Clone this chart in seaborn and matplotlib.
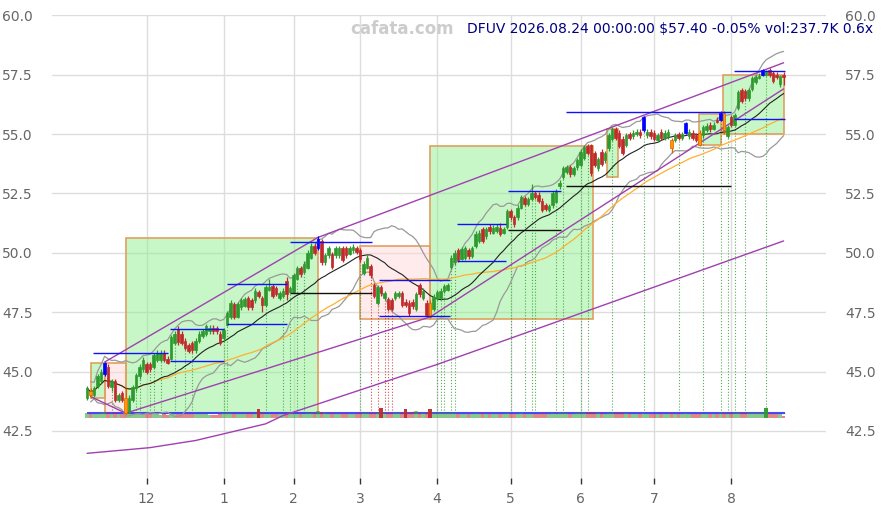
import numpy as np
import pandas as pd
import matplotlib
matplotlib.use("Agg")
import matplotlib.pyplot as plt
from matplotlib.patches import Rectangle
import seaborn as sns

HOLIDAYS = ["2025-11-27", "2025-12-25", "2026-01-01", "2026-01-19", "2026-02-16",
            "2026-04-03", "2026-05-25", "2026-06-19", "2026-07-03"]

# daily candles, one row of (open, high, low, close) per trading day
candles = [
    (43.9, 44.4, 43.8, 44.3), (44.2, 44.3, 43.9, 44.0), (44.0, 44.4, 43.95, 44.3), (44.4, 44.9, 44.3, 44.8),
    (44.6, 45.1, 44.5, 45.0), (44.9, 45.4, 44.8, 45.35), (45.2, 45.3, 44.3, 44.4), (44.35, 44.7, 44.2, 44.6),
    (44.6, 44.7, 43.7, 43.8), (43.8, 44.1, 43.7, 44.0), (44.1, 44.2, 43.7, 43.8), (43.9, 44.3, 43.2, 43.25),
    (43.3, 44.0, 43.25, 43.9), (43.8, 44.45, 43.7, 44.35), (44.3, 44.95, 44.2, 44.85), (44.8, 45.3, 44.7, 45.2),
    (45.1, 45.6, 45.0, 45.5), (45.3, 45.4, 44.9, 45.0), (45.3, 45.4, 45.0, 45.1), (45.2, 45.8, 45.1, 45.7),
    (45.5, 45.9, 45.4, 45.8), (45.5, 45.9, 45.4, 45.8), (45.8, 45.9, 45.4, 45.5), (45.55, 45.65, 45.3, 45.35),
    (45.55, 46.55, 45.5, 46.45), (46.2, 46.7, 46.1, 46.6), (46.8, 46.9, 46.1, 46.25), (46.6, 46.7, 46.1, 46.2),
    (46.3, 46.4, 45.9, 46.0), (46.1, 46.2, 45.8, 45.85), (46.2, 46.3, 45.8, 45.9), (45.9, 46.4, 45.8, 46.3),
    (46.3, 46.7, 46.2, 46.6), (46.5, 46.8, 46.4, 46.7), (46.6, 47.0, 46.5, 46.9), (46.7, 46.95, 46.6, 46.85),
    (46.85, 46.95, 46.6, 46.7), (46.85, 46.9, 46.6, 46.7), (46.6, 46.7, 46.1, 46.2), (46.4, 46.85, 46.3, 46.75),
    (46.95, 47.55, 46.9, 47.45), (47.3, 48.0, 47.2, 47.9), (47.85, 47.95, 47.2, 47.3), (47.3, 47.95, 47.25, 47.85),
    (47.7, 48.1, 47.6, 48.0), (47.75, 48.15, 47.7, 48.05), (48.1, 48.2, 47.6, 47.7), (48.0, 48.1, 47.6, 47.7),
    (48.0, 48.5, 47.9, 48.4), (48.35, 48.45, 48.1, 48.2), (48.1, 48.2, 47.5, 47.8), (47.8, 48.65, 47.7, 48.55),
    (48.45, 48.9, 48.4, 48.55), (48.6, 48.7, 48.1, 48.2), (48.5, 48.6, 48.2, 48.25), (48.1, 48.4, 48.0, 48.3),
    (48.2, 48.5, 48.1, 48.4), (48.8, 49.0, 48.0, 48.25), (48.35, 48.6, 48.3, 48.5), (48.35, 49.15, 48.3, 49.05),
    (48.9, 49.45, 48.85, 49.35), (49.35, 49.45, 49.0, 49.1), (49.2, 49.65, 49.1, 49.55), (49.35, 50.1, 49.3, 50.0),
    (49.8, 50.4, 49.75, 50.3), (50.3, 50.4, 49.9, 50.0), (50.2, 50.7, 50.1, 50.6), (50.5, 50.6, 49.5, 49.6),
    (49.6, 50.0, 49.5, 49.9), (49.9, 50.3, 49.8, 50.2), (49.95, 50.05, 49.3, 49.4), (49.9, 50.3, 49.8, 50.2),
    (49.9, 50.3, 49.8, 50.2), (50.2, 50.3, 49.6, 49.7), (50.2, 50.3, 49.8, 49.9), (49.95, 50.3, 49.9, 50.2),
    (50.1, 50.35, 50.0, 50.25), (50.2, 50.3, 49.95, 50.05), (50.1, 50.2, 49.6, 49.75), (49.15, 49.65, 49.05, 49.55),
    (49.35, 49.9, 49.3, 49.8), (49.45, 49.55, 48.95, 49.05), (48.65, 48.75, 48.1, 48.2), (47.9, 48.65, 47.8, 48.55),
    (48.55, 48.65, 48.2, 48.3), (48.1, 48.4, 48.0, 48.3), (48.05, 48.15, 47.55, 47.65), (48.0, 48.1, 47.55, 47.65),
    (48.1, 48.4, 48.0, 48.3), (48.2, 48.4, 48.1, 48.3), (48.3, 48.4, 47.7, 47.8), (47.95, 48.05, 47.7, 47.8),
    (47.9, 48.0, 47.35, 47.45), (47.95, 48.05, 47.65, 47.75), (47.65, 48.35, 47.55, 48.25), (48.65, 48.75, 48.15, 48.25),
    (48.1, 48.5, 48.0, 48.4), (47.9, 48.0, 47.35, 47.4), (47.9, 48.0, 47.25, 47.3), (47.65, 48.25, 47.55, 48.15),
    (48.1, 48.45, 48.0, 48.35), (48.1, 48.5, 48.0, 48.4), (48.4, 48.7, 48.3, 48.6), (48.45, 48.75, 48.4, 48.65),
    (49.4, 49.9, 49.3, 49.8), (49.6, 50.1, 49.5, 50.0), (50.1, 50.2, 49.6, 49.7), (49.75, 50.25, 49.7, 50.15),
    (49.8, 50.3, 49.7, 50.2), (50.1, 50.2, 49.75, 49.85), (49.85, 50.3, 49.8, 50.2), (50.3, 50.9, 50.2, 50.8),
    (50.5, 50.95, 50.4, 50.85), (51.0, 51.1, 50.4, 50.5), (50.7, 51.1, 50.6, 51.0), (51.1, 51.2, 50.8, 50.9),
    (50.85, 51.15, 50.8, 51.05), (50.9, 51.2, 50.85, 51.1), (51.05, 51.25, 50.7, 50.8), (50.85, 51.1, 50.8, 51.0),
    (51.1, 51.85, 51.0, 51.75), (51.75, 51.85, 51.4, 51.5), (51.5, 51.6, 51.1, 51.2), (51.5, 52.0, 51.4, 51.9),
    (51.9, 52.45, 51.85, 52.35), (52.3, 52.4, 51.95, 52.05), (52.05, 52.35, 51.95, 52.25), (52.25, 52.9, 52.2, 52.5),
    (52.5, 52.6, 52.25, 52.35), (52.45, 52.55, 52.1, 52.2), (52.2, 52.3, 51.7, 51.8), (52.0, 52.1, 51.75, 51.85),
    (51.8, 52.05, 51.7, 51.95), (52.0, 52.6, 51.9, 52.5), (52.15, 52.7, 52.1, 52.6), (52.8, 53.05, 52.7, 52.95),
    (53.2, 53.65, 53.1, 53.55), (53.4, 53.7, 53.3, 53.6), (53.6, 53.7, 53.2, 53.3), (53.3, 53.65, 53.25, 53.55),
    (53.6, 54.0, 53.5, 53.9), (53.7, 54.35, 53.6, 54.25), (54.0, 54.55, 53.9, 54.45), (54.5, 54.6, 54.1, 54.2),
    (54.55, 54.6, 53.25, 53.35), (54.2, 54.3, 53.6, 53.7), (53.55, 54.05, 53.45, 53.95), (54.25, 54.35, 53.65, 53.75),
    (53.9, 54.3, 53.8, 54.2), (54.4, 55.05, 54.3, 54.95), (54.8, 55.3, 54.7, 55.2), (55.2, 55.3, 54.75, 54.85),
    (55.05, 55.15, 54.4, 54.5), (54.8, 54.9, 54.1, 54.2), (54.55, 55.05, 54.45, 54.95), (55.0, 55.1, 54.75, 54.85),
    (54.9, 55.15, 54.8, 55.05), (55.0, 55.2, 54.9, 55.1), (55.1, 55.2, 54.85, 54.95), (55.15, 55.75, 55.1, 55.7),
    (54.95, 55.2, 54.85, 55.1), (55.1, 55.2, 54.8, 54.9), (55.05, 55.15, 54.7, 54.8), (54.75, 55.05, 54.65, 54.95),
    (55.1, 55.2, 54.75, 54.85), (54.85, 55.15, 54.75, 55.05), (54.9, 55.2, 54.8, 55.1), (54.75, 54.85, 54.2, 54.4),
    (54.75, 55.05, 54.65, 54.95), (55.0, 55.1, 54.75, 54.85), (54.85, 55.1, 54.75, 55.0), (55.05, 55.5, 55.0, 55.45),
    (54.9, 55.2, 54.8, 55.1), (55.05, 55.15, 54.75, 54.85), (54.95, 55.05, 54.65, 54.75), (55.05, 55.15, 54.5, 54.55),
    (54.95, 55.4, 54.85, 55.3), (55.15, 55.45, 55.1, 55.35), (55.4, 55.5, 55.1, 55.2), (55.2, 55.5, 55.15, 55.4),
    (55.6, 55.7, 55.45, 55.5), (55.6, 55.95, 55.55, 55.9), (55.9, 55.95, 55.0, 55.15), (54.9, 55.4, 54.85, 55.3),
    (55.7, 55.8, 55.3, 55.4), (55.4, 55.9, 55.35, 55.8), (56.1, 56.85, 56.0, 56.75), (56.85, 56.95, 56.3, 56.4),
    (56.8, 56.9, 56.4, 56.5), (56.5, 56.95, 56.4, 56.85), (56.9, 57.45, 56.8, 57.35), (57.2, 57.5, 57.1, 57.4),
    (57.35, 57.55, 57.3, 57.45), (57.5, 57.75, 57.45, 57.7), (57.5, 57.7, 57.45, 57.65), (57.7, 57.8, 57.4, 57.5),
    (57.55, 57.65, 57.15, 57.25), (57.5, 57.6, 57.3, 57.4), (57.1, 57.5, 57.0, 57.43), (57.5, 57.6, 57.05, 57.40),
]

volumes = [
    420, 380, 350, 390, 410, 520, 450, 380, 430, 360, 400, 560, 470, 390, 410, 380, 360, 340, 370, 330,
    350, 320, 360, 300, 420, 380, 400, 390, 370, 360, 350, 380, 340, 330, 360, 320, 280, 300, 360, 410,
    450, 420, 400, 380, 370, 390, 410, 380, 360, 820, 430, 400, 390, 370, 360, 380, 350, 420, 390, 400,
    380, 370, 390, 420, 440, 410, 620, 520, 430, 400, 450, 390, 380, 410, 400, 370, 360, 380, 420, 480,
    420, 440, 470, 430, 850, 450, 420, 460, 440, 420, 410, 800, 450, 560, 580, 440, 420, 460, 780, 480,
    470, 440, 420, 410, 480, 450, 400, 390, 380, 370, 390, 420, 400, 410, 380, 390, 360, 370, 380, 360,
    420, 390, 400, 380, 410, 380, 370, 390, 360, 380, 410, 390, 370, 420, 400, 430, 460, 420, 400, 390,
    410, 430, 440, 420, 520, 470, 430, 420, 400, 440, 450, 430, 420, 440, 410, 380, 370, 360, 380, 480,
    390, 370, 360, 380, 370, 360, 350, 440, 370, 360, 350, 430, 360, 350, 340, 430, 380, 370, 360, 370,
    380, 450, 480, 400, 420, 430, 460, 440, 420, 410, 430, 420, 410, 450, 830, 430, 400, 390, 380, 237.7,
]

pivot_highs = [5, 66, 159, 171, 181, 193]
pivot_lows = [1, 11, 98, 167, 175, 182]

# trend polylines (day index, price)
upper_idx = [5, 66, 199]
upper_val = [45.4, 50.65, 58.0]
lower_idx = [1, 11, 98, 199]
lower_val = [43.95, 43.25, 47.3, 56.9]
support_idx = [0, 18, 31, 41, 51, 56, 100, 199]
support_val = [41.56, 41.8, 42.1, 42.45, 42.8, 43.15, 45.3, 50.5]

# boxes: start, end, low, high, up/down
box_start = [1, 5, 11, 78, 98, 148.6, 174.8, 181.6]
box_end = [5, 11, 66, 98, 144.5, 151.7, 181, 199]
box_low = [43.87, 43.27, 43.27, 47.2, 47.2, 53.2, 54.53, 55.02]
box_high = [45.35, 45.35, 50.62, 50.3, 54.5, 55.23, 55.86, 57.5]
box_up = [True, False, True, False, True, True, True, True]

# horizontal levels
lvl_start = [1.8, 23.7, 23.7, 40.1, 40.1, 58.1, 58.1, 83.3, 83.3, 105.6, 105.6, 120.3, 120.3, 136.7, 136.7, 184.9, 184.9]
lvl_end = [23.1, 39.2, 39.2, 57.1, 57.1, 81.4, 81.4, 103.7, 103.7, 119.8, 119.8, 135.5, 135.5, 184, 184, 199.5, 199.5]
lvl_price = [45.77, 45.46, 46.78, 48.67, 46.99, 50.44, 48.29, 48.85, 47.32, 51.21, 49.64, 52.62, 50.98, 55.91, 52.83, 57.67, 55.65]
lvl_color = ["blue", "blue", "blue", "blue", "blue", "blue", "black", "blue", "blue", "blue", "blue", "blue",
             "black", "blue", "black", "blue", "blue"]

green_marks = [7, 14, 15, 18, 19, 21, 25, 28, 30, 39, 40, 51, 56, 58, 60, 62, 78, 100, 101, 102, 104, 105,
               121, 125, 127, 128, 134, 136, 141, 143, 150, 159, 169, 176, 181, 183, 185, 188, 194]
red_marks = [81, 83, 85, 86, 87]

dates = pd.bdate_range("2025-11-05", "2026-08-24", freq="C", holidays=HOLIDAYS)
df = pd.DataFrame(candles, columns=["open", "high", "low", "close"])
df["date"] = dates
df["idx"] = np.arange(len(df))
df["volume"] = volumes
df["sma20"] = df["close"].rolling(20, min_periods=1).mean()
df["sma50"] = df["close"].rolling(50, min_periods=1).mean()
sd = df["close"].rolling(20, min_periods=2).std()
df["bb_up"] = df["sma20"] + 2 * sd
df["bb_dn"] = df["sma20"] - 2 * sd

sns.set_theme(style="white")
fig = plt.figure(figsize=(8.83, 5.08), dpi=100)
ax = fig.add_axes([0.059, 0.059, 0.876, 0.911])
ax.set_axisbelow(True)
ax.grid(True, color="#dddddd", lw=1)

GREEN = "#2e9a2e"
RED = "#c02a2a"

# boxes
for s, e, lo, hi, up in zip(box_start, box_end, box_low, box_high, box_up):
    face = "#90f090" if up else "#ffd8d8"
    ax.add_patch(Rectangle((s, lo), e - s, hi - lo, facecolor=face, alpha=0.5, edgecolor="none", zorder=1))
    ax.add_patch(Rectangle((s, lo), e - s, hi - lo, facecolor="none", edgecolor="#e0a060", lw=1.2, zorder=1.5))

# volume bars on the bottom strip
vol_base = 43.03
avg_vol = df["volume"].mean()
vol_h = df["volume"] / avg_vol * 0.21
up_day = df["close"] >= df["open"]
strong = df["volume"] > 1.6 * avg_vol
for i in range(len(df)):
    c = GREEN if up_day[i] else RED
    ax.bar(i, vol_h[i], bottom=vol_base, width=0.95, color=c, alpha=0.95 if strong[i] else 0.55,
           lw=0, zorder=2.6)
ax.hlines(43.25, 0, len(df) - 0.5, color="#b060c0", lw=0.8, alpha=0.6, zorder=2.4)
ax.hlines(43.27, 0, len(df) - 0.5, color="#3838ff", lw=1.5, alpha=0.9, zorder=2.5)

# marker verticals
for i in green_marks:
    ax.vlines(i, 43.27, df["low"][i], colors=GREEN, linestyles=":", lw=0.8, alpha=0.8, zorder=2)
for i in red_marks:
    ax.vlines(i, 43.27, df["low"][i], colors=RED, linestyles=":", lw=0.8, alpha=0.8, zorder=2)

# indicators
sns.lineplot(data=df, x="idx", y="bb_up", ax=ax, color="#999999", lw=0.9, zorder=3)
sns.lineplot(data=df, x="idx", y="bb_dn", ax=ax, color="#999999", lw=0.9, zorder=3)
sns.lineplot(data=df, x="idx", y="sma50", ax=ax, color="#ffb030", lw=0.9, zorder=3)
sns.lineplot(data=df, x="idx", y="sma20", ax=ax, color="#222222", lw=0.8, zorder=3)

# trend lines
for xs, ys in [(upper_idx, upper_val), (lower_idx, lower_val), (support_idx, support_val)]:
    ax.plot(xs, ys, color="#a040b0", lw=1.0, zorder=3.5)

# candles
for i, r in df.iterrows():
    if i in pivot_highs:
        c, ec = "#0000ff", "#0000ff"
    elif i in pivot_lows:
        c, ec = "#ff9900", "#e06000"
    else:
        c = GREEN if r["close"] >= r["open"] else RED
        ec = c
    ax.vlines(i, r["low"], r["high"], colors=ec, lw=0.9, zorder=4)
    h = r["close"] - r["open"]
    if abs(h) < 0.03:
        h = 0.03
    ax.bar(i, h, bottom=r["open"], width=0.75, color=c, edgecolor=ec, lw=0.5, zorder=4.5)

# levels
for s, e, p, c in zip(lvl_start, lvl_end, lvl_price, lvl_color):
    ax.hlines(p, s, e, colors="#1010ff" if c == "blue" else "#111111", lw=1.0, zorder=5)

ax.set_xlim(-10, 211)
ax.set_ylim(40.52, 60.0)
yt = np.arange(42.5, 60.01, 2.5)
ax.set_yticks(yt)
ax.set_yticklabels([f"{v:.1f}" for v in yt])
month_first = df.groupby(df["date"].dt.to_period("M"))["idx"].min()
month_first = month_first[month_first.index > pd.Period("2025-11", "M")]
ax.set_xticks(month_first.values)
ax.set_xticklabels([str(p.month) for p in month_first.index])
ax.set_xlabel("")
ax.set_ylabel("")
ax.tick_params(axis="y", which="both", left=False, right=False, labelleft=True, labelright=True,
               labelsize=10, labelcolor="#666666", pad=8)
ax.tick_params(axis="x", bottom=True, length=4, width=1, color="#333333", labelsize=10,
               labelcolor="#666666", pad=6)
for sp in ax.spines.values():
    sp.set_visible(False)

last = df.iloc[-1]
prev = df.iloc[-2]
chg = (last["close"] / prev["close"] - 1) * 100
title = (f"DFUV {last['date'].strftime('%Y.%m.%d')} 00:00:00 ${last['close']:.2f} {chg:.2f}% "
         f"vol:{last['volume']:.1f}K {last['volume'] / avg_vol:.1f}x")
fig.text(0.455, 0.943, "cafata.com", ha="center", va="center", fontsize=12, fontweight="bold", color="#cccccc")
fig.text(0.989, 0.943, title, ha="right", va="center", fontsize=10, color="#000080")

fig.savefig("out.png", dpi=100)
